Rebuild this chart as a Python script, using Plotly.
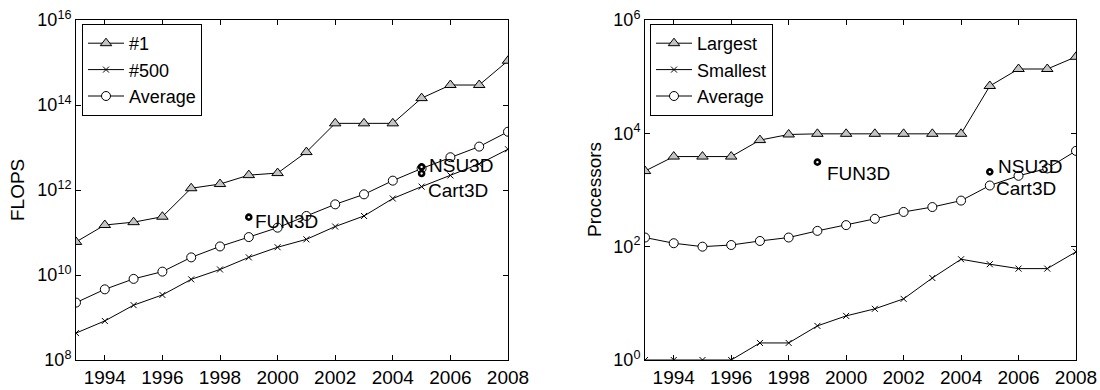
import plotly.graph_objects as go
import math

years = list(range(1993, 2009))

# Left panel: FLOPS
flops_top1 = [6.0e10, 1.5e11, 1.75e11, 2.35e11, 1.1e12, 1.38e12, 2.24e12, 2.5e12,
              7.8e12, 3.7e13, 3.7e13, 3.7e13, 1.45e14, 2.95e14, 2.95e14, 1.1e15]
flops_500 = [4.3e8, 8.3e8, 1.95e9, 3.4e9, 7.9e9, 1.35e10, 2.6e10, 4.5e10,
             6.9e10, 1.38e11, 2.45e11, 6.3e11, 1.2e12, 2.2e12, 4.1e12, 9.1e12]
flops_avg = [2.24e9, 4.6e9, 8.1e9, 1.2e10, 2.6e10, 4.7e10, 7.8e10, 1.3e11,
             2.45e11, 4.6e11, 7.9e11, 1.66e12, 3.2e12, 5.9e12, 1.05e13, 2.35e13]
flops_codes = ["FUN3D", "NSU3D", "Cart3D"]
flops_code_years = [1999, 2005, 2005]
flops_code_vals = [2.3e11, 3.5e12, 2.45e12]

# Right panel: Processors
proc_largest = [2160, 3890, 3890, 3890, 7600, 9550, 9800, 9800,
                9800, 9800, 9800, 9800, 68400, 136500, 136500, 224000]
proc_smallest = [1, 1, 1, 1, 2, 2, 4, 6, 8, 12, 28, 60, 49, 41, 41, 81]
proc_avg = [145, 115, 100, 107, 126, 145, 190, 240,
            310, 410, 500, 650, 1200, 1780, 2400, 4900]
proc_codes = ["FUN3D", "NSU3D"]
proc_code_years = [1999, 2005]
proc_code_vals = [3100, 2090]
proc_label_only = ["Cart3D"]
proc_label_only_years = [2005]
proc_label_only_vals = [1200]

left_legend = ["#1", "#500", "Average"]
right_legend = ["Largest", "Smallest", "Average"]
x_ticks = list(range(1994, 2009, 2))
left_y_exps = [8, 10, 12, 14, 16]
right_y_exps = [0, 2, 4, 6]

FONT = "Liberation Sans, Arial, Helvetica, sans-serif"

fig = go.Figure()

def add_series(x, y, name, symbol, size, xa, ya, legend, fill="white", lw=1):
    fig.add_trace(go.Scatter(
        x=x, y=y, name=name, mode="lines+markers",
        line=dict(color="black", width=1),
        marker=dict(symbol=symbol, size=size, color=fill,
                    line=dict(color="black", width=lw)),
        xaxis=xa, yaxis=ya, legend=legend))

TRI_FILL = "#c4c4c4"
add_series(years, flops_top1, left_legend[0], "triangle-up", 10, "x", "y", "legend", fill=TRI_FILL)
add_series(years, flops_500, left_legend[1], "x-thin", 6, "x", "y", "legend")
add_series(years, flops_avg, left_legend[2], "circle", 9, "x", "y", "legend")

add_series(years, proc_largest, right_legend[0], "triangle-up", 10, "x2", "y2", "legend2", fill=TRI_FILL)
add_series(years, proc_smallest, right_legend[1], "x-thin", 6, "x2", "y2", "legend2")
add_series(years, proc_avg, right_legend[2], "circle", 9, "x2", "y2", "legend2")

pt_marker = dict(symbol="circle", size=5, color="white", line=dict(color="black", width=2.6))
fig.add_trace(go.Scatter(x=flops_code_years, y=flops_code_vals, mode="markers",
                         marker=pt_marker, showlegend=False, xaxis="x", yaxis="y"))
fig.add_trace(go.Scatter(x=proc_code_years, y=proc_code_vals, mode="markers",
                         marker=pt_marker, showlegend=False, xaxis="x2", yaxis="y2"))

annots = []
left_shifts = [(4, -4), (5, 1), (4, -17)]
for name, yr, v, (dx, dy) in zip(flops_codes, flops_code_years, flops_code_vals, left_shifts):
    annots.append(dict(x=yr, y=math.log10(v), xref="x", yref="y", text=name,
                       showarrow=False, xanchor="left", yanchor="middle",
                       xshift=dx, yshift=dy, font=dict(family=FONT, size=19, color="black")))
right_shifts = [(8, -11), (6, 5)]
for name, yr, v, (dx, dy) in zip(proc_codes, proc_code_years, proc_code_vals, right_shifts):
    annots.append(dict(x=yr, y=math.log10(v), xref="x2", yref="y2", text=name,
                       showarrow=False, xanchor="left", yanchor="middle",
                       xshift=dx, yshift=dy, font=dict(family=FONT, size=19, color="black")))
for name, yr, v in zip(proc_label_only, proc_label_only_years, proc_label_only_vals):
    annots.append(dict(x=yr, y=math.log10(v), xref="x2", yref="y2", text=name,
                       showarrow=False, xanchor="left", yanchor="middle",
                       xshift=4, yshift=-3, font=dict(family=FONT, size=19, color="black")))

annots.append(dict(x=17/1100, y=1-190/390, xref="paper", yref="paper", text="FLOPS",
                   textangle=-90, showarrow=False, xanchor="center", yanchor="middle",
                   font=dict(family=FONT, size=19, color="black")))
annots.append(dict(x=594/1100, y=1-190/390, xref="paper", yref="paper", text="Processors",
                   textangle=-90, showarrow=False, xanchor="center", yanchor="middle",
                   font=dict(family=FONT, size=19, color="black")))

y_dom = [1-360/390, 1-20/390]
xaxis_common = dict(range=[1993, 2008], tickvals=x_ticks, ticks="inside", ticklen=5,
                    showline=True, linecolor="black", linewidth=1, mirror="ticks",
                    showgrid=False, zeroline=False, tickcolor="black", automargin=False,
                    tickfont=dict(family=FONT, size=19, color="black"))
yaxis_common = dict(type="log", ticks="inside", ticklen=5, showline=True, linecolor="black",
                    linewidth=1, mirror="ticks", showgrid=False, zeroline=False,
                    tickcolor="black", automargin=False,
                    tickfont=dict(family=FONT, size=18, color="black"),
                    domain=y_dom)

LEG_FONT = dict(family=FONT, size=18, color="black")
fig.update_layout(
    template="none",
    width=1100, height=390, margin=dict(l=0, r=0, t=0, b=0, pad=0),
    paper_bgcolor="white", plot_bgcolor="white",
    xaxis=dict(domain=[76/1100, 508/1100], anchor="y", **xaxis_common),
    yaxis=dict(anchor="x", range=[8, 16], tickvals=[10**e for e in left_y_exps],
               ticktext=[f"10<sup>{e}</sup>" for e in left_y_exps], **yaxis_common),
    xaxis2=dict(domain=[645/1100, 1076/1100], anchor="y2", **xaxis_common),
    yaxis2=dict(anchor="x2", range=[0, 6], tickvals=[10**e for e in right_y_exps],
                ticktext=[f"10<sup>{e}</sup>" for e in right_y_exps], **yaxis_common),
    legend=dict(x=82/1100, y=1-24/390, xanchor="left", yanchor="top",
                bgcolor="white", bordercolor="black", borderwidth=1,
                font=LEG_FONT, tracegroupgap=0, itemwidth=36),
    legend2=dict(x=650/1100, y=1-24/390, xanchor="left", yanchor="top",
                 bgcolor="white", bordercolor="black", borderwidth=1,
                 font=LEG_FONT, tracegroupgap=0, itemwidth=36),
    annotations=annots,
    showlegend=True,
)

fig.write_html("out.html")
